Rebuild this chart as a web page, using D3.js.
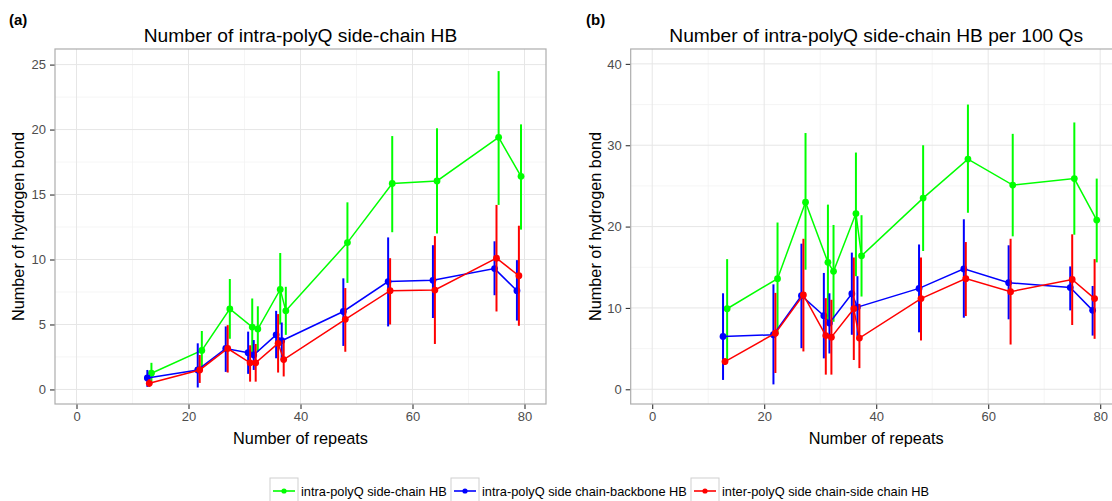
<!DOCTYPE html>
<html>
<head>
<meta charset="utf-8">
<script src="https://cdn.jsdelivr.net/npm/d3@7"></script>
<style>
  body { margin: 0; background: #fff; }
  svg { font-family: "Liberation Sans", Arial, sans-serif; display: block; }
</style>
</head>
<body>
<svg id="chart" width="1112" height="501"></svg>
<script>
// number of glutamine repeats
const repeats = [13, 22, 27, 31, 32, 36, 37, 48, 56, 64, 75, 79];

// (a) absolute counts
const sideChainMeanA = [1.25, 3.0, 6.2, 4.8, 4.65, 7.7, 6.05, 11.3, 15.85, 16.05, 19.4, 16.4];
const sideChainLowA  = [0.6, 1.5, 3.9, 2.7, 2.9, 5.0, 4.2, 8.2, 12.1, 12.0, 14.2, 12.3];
const sideChainHighA = [2.05, 4.5, 8.5, 7.0, 6.4, 10.5, 7.9, 14.4, 19.5, 20.1, 24.5, 20.4];

const backboneMeanA = [0.88, 1.5, 3.15, 2.83, 2.65, 4.2, 3.75, 6.0, 8.3, 8.4, 9.3, 7.6];
const backboneLowA  = [0.2, 0.15, 1.35, 1.2, 1.5, 2.4, 2.25, 3.35, 4.85, 5.5, 7.25, 5.3];
const backboneHighA = [1.5, 3.55, 4.85, 4.45, 3.8, 6.05, 5.15, 8.55, 11.7, 11.1, 11.4, 9.95];

const interMeanA = [0.47, 1.5, 3.15, 2.05, 2.05, 3.55, 2.3, 5.4, 7.6, 7.65, 10.1, 8.75];
const interLowA  = [0.2, 0.5, 1.3, 0.6, 0.6, 1.3, 1.0, 2.9, 5.0, 3.5, 6.0, 4.9];
const interHighA = [0.8, 2.65, 4.95, 3.4, 3.5, 5.8, 3.8, 7.8, 10.1, 11.8, 14.2, 12.6];

// (b) per 100 Qs
const sideChainMeanB = [9.9, 13.6, 23.0, 15.6, 14.5, 21.6, 16.4, 23.5, 28.3, 25.1, 25.9, 20.8];
const sideChainLowB  = [3.6, 6.8, 14.7, 8.5, 8.3, 13.9, 11.4, 17.0, 21.7, 18.8, 19.0, 15.6];
const sideChainHighB = [16.0, 20.5, 31.5, 22.7, 20.2, 29.1, 21.4, 30.0, 35.0, 31.4, 32.8, 25.9];

const backboneMeanB = [6.5, 6.7, 11.5, 9.05, 8.15, 11.75, 10.1, 12.4, 14.8, 13.1, 12.5, 9.7];
const backboneLowB  = [1.15, 0.6, 5.05, 3.8, 4.4, 6.7, 6.5, 7.0, 8.8, 8.6, 9.7, 6.6];
const backboneHighB = [11.8, 12.9, 17.9, 14.3, 11.8, 16.8, 13.9, 17.8, 20.9, 17.7, 15.1, 12.7];

const interMeanB = [3.4, 6.9, 11.6, 6.6, 6.4, 9.9, 6.3, 11.15, 13.6, 12.0, 13.5, 11.15];
const interLowB  = [3.0, 2.0, 4.65, 1.8, 1.8, 3.6, 2.6, 6.0, 9.0, 5.5, 7.9, 6.2];
const interHighB = [3.8, 11.85, 18.5, 11.2, 11.0, 16.2, 10.5, 16.2, 18.1, 18.5, 19.05, 16.0];

const seriesNames = ["intra-polyQ side-chain HB", "intra-polyQ side chain-backbone HB", "inter-polyQ side chain-side chain HB"];
const seriesColors = ["#00ff00", "#0000ff", "#ff0000"];
const dodge = [0.38, -0.35, 0];

const xTicks = [0, 20, 40, 60, 80];
const yTicksA = [0, 5, 10, 15, 20, 25];
const yTicksB = [0, 10, 20, 30, 40];

const svg = d3.select("#chart");

function drawPanel(opts) {
	const x = d3.scaleLinear().domain([-3.84, 83.84]).range([opts.left, opts.left + 491]);
	const y = d3.scaleLinear().domain(opts.yDomain).range([404, 49]);
	const g = svg.append("g");

	// grid
	const xMinor = [10, 30, 50, 70];
	const yMinor = opts.yTicks.slice(0, -1).map((t, i) => (t + opts.yTicks[i + 1]) / 2);
	g.selectAll(".xminor").data(xMinor).join("line")
		.attr("x1", d => x(d)).attr("x2", d => x(d)).attr("y1", 49).attr("y2", 404)
		.attr("stroke", "#f3f3f3").attr("stroke-width", 0.8);
	g.selectAll(".yminor").data(yMinor).join("line")
		.attr("x1", opts.left).attr("x2", opts.left + 491).attr("y1", d => y(d)).attr("y2", d => y(d))
		.attr("stroke", "#f3f3f3").attr("stroke-width", 0.8);
	g.selectAll(".xmajor").data(xTicks).join("line")
		.attr("x1", d => x(d)).attr("x2", d => x(d)).attr("y1", 49).attr("y2", 404)
		.attr("stroke", "#e6e6e6").attr("stroke-width", 1);
	g.selectAll(".ymajor").data(opts.yTicks).join("line")
		.attr("x1", opts.left).attr("x2", opts.left + 491).attr("y1", d => y(d)).attr("y2", d => y(d))
		.attr("stroke", "#e6e6e6").attr("stroke-width", 1);

	// axes
	const xAxis = d3.axisBottom(x).tickValues(xTicks).tickSize(5).tickPadding(3).tickSizeOuter(0);
	const yAxis = d3.axisLeft(y).tickValues(opts.yTicks).tickSize(5).tickPadding(4).tickSizeOuter(0);
	const xAxisG = g.append("g").attr("transform", "translate(0,404)").call(xAxis);
	const yAxisG = g.append("g").attr("transform", `translate(${opts.left},0)`).call(yAxis);
	[xAxisG, yAxisG].forEach(a => {
		a.select(".domain").remove();
		a.selectAll(".tick line").attr("stroke", "#333").attr("stroke-width", 1.1);
		a.selectAll(".tick text").attr("fill", "#4d4d4d").style("font-size", "13px");
	});

	// panel border
	g.append("rect")
		.attr("x", opts.left).attr("y", 49).attr("width", 491).attr("height", 355)
		.attr("fill", "none").attr("stroke", "#adadad").attr("stroke-width", 1.2);

	// series
	opts.series.forEach((s, k) => {
		const pts = repeats.map((r, i) => ({x: r + dodge[k], m: s.mean[i], lo: s.low[i], hi: s.high[i]}));
		const sg = g.append("g");
		sg.selectAll("line").data(pts).join("line")
			.attr("x1", d => x(d.x)).attr("x2", d => x(d.x))
			.attr("y1", d => y(d.lo)).attr("y2", d => y(d.hi))
			.attr("stroke", seriesColors[k]).attr("stroke-width", 2);
		sg.append("path")
			.attr("d", d3.line().x(d => x(d.x)).y(d => y(d.m))(pts))
			.attr("fill", "none").attr("stroke", seriesColors[k]).attr("stroke-width", 1.5);
		sg.selectAll("circle").data(pts).join("circle")
			.attr("cx", d => x(d.x)).attr("cy", d => y(d.m)).attr("r", 3.4)
			.attr("fill", seriesColors[k]);
	});

	// titles
	svg.append("text").attr("x", opts.left + 245.5).attr("y", 42)
		.attr("text-anchor", "middle").style("font-size", "19.2px").attr("fill", "#000")
		.text(opts.title);
	svg.append("text").attr("x", opts.tagX).attr("y", 25)
		.style("font-size", "15px").style("font-weight", "bold").attr("fill", "#000")
		.text(opts.tag);
	svg.append("text").attr("x", opts.left + 245.5).attr("y", 444)
		.attr("text-anchor", "middle").style("font-size", "16.3px").attr("fill", "#000")
		.text("Number of repeats");
	svg.append("text")
		.attr("transform", `translate(${opts.yLabelX},226.5) rotate(-90)`)
		.attr("text-anchor", "middle").style("font-size", "16.3px").attr("fill", "#000")
		.text("Number of hydrogen bond");
}

drawPanel({
	left: 55, yDomain: [-1.12, 26.2], yTicks: yTicksA,
	title: "Number of intra-polyQ side-chain HB", tag: "(a)", tagX: 9, yLabelX: 24,
	series: [
		{mean: sideChainMeanA, low: sideChainLowA, high: sideChainHighA},
		{mean: backboneMeanA, low: backboneLowA, high: backboneHighA},
		{mean: interMeanA, low: interLowA, high: interHighA}
	]
});

drawPanel({
	left: 630.7, yDomain: [-1.81, 41.83], yTicks: yTicksB,
	title: "Number of intra-polyQ side-chain HB per 100 Qs", tag: "(b)", tagX: 586, yLabelX: 601,
	series: [
		{mean: sideChainMeanB, low: sideChainLowB, high: sideChainHighB},
		{mean: backboneMeanB, low: backboneLowB, high: backboneHighB},
		{mean: interMeanB, low: interLowB, high: interHighB}
	]
});

// legend
const legendX = [270, 451, 691];
const legend = svg.append("g");
seriesNames.forEach((name, k) => {
	const lx = legendX[k];
	legend.append("rect").attr("x", lx).attr("y", 478).attr("width", 28).attr("height", 28)
		.attr("fill", "#fff").attr("stroke", "#cfcfcf").attr("stroke-width", 1);
	legend.append("line").attr("x1", lx + 3).attr("x2", lx + 25).attr("y1", 491).attr("y2", 491)
		.attr("stroke", seriesColors[k]).attr("stroke-width", 1.6);
	legend.append("circle").attr("cx", lx + 14).attr("cy", 491).attr("r", 2.6)
		.attr("fill", seriesColors[k]);
	legend.append("text").attr("x", lx + 31).attr("y", 495.5)
		.style("font-size", "12.8px").attr("fill", "#000")
		.text(name);
});
</script>
</body>
</html>
